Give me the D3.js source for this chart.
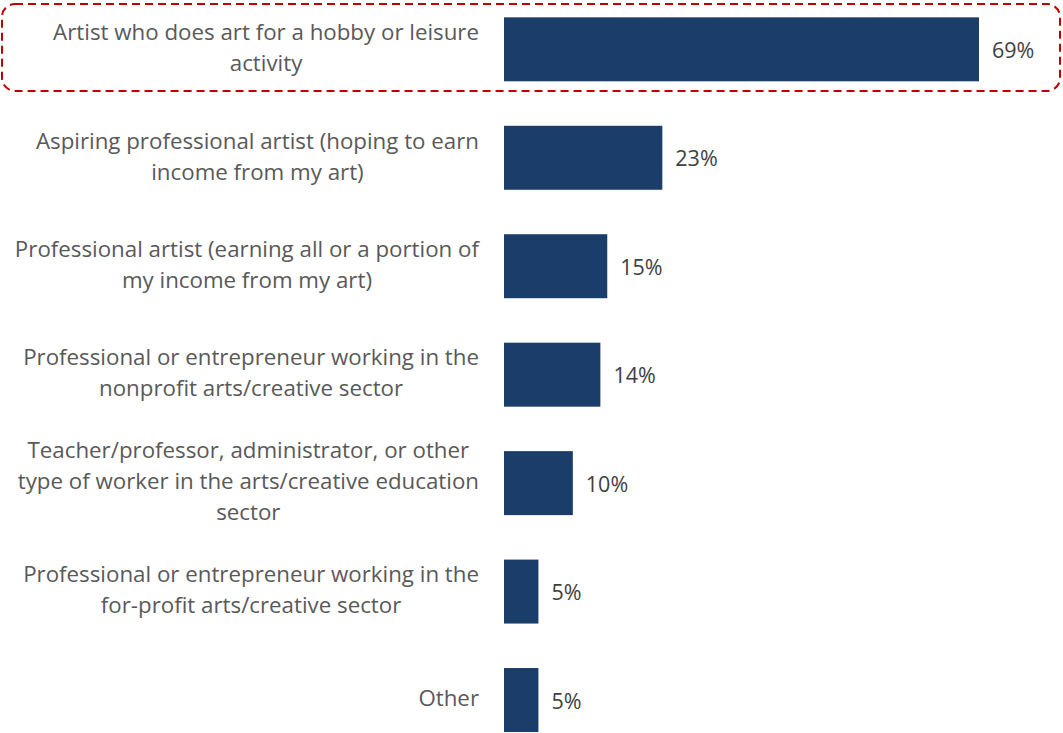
<!DOCTYPE html>
<html><head><meta charset="utf-8">
<script src="https://cdn.jsdelivr.net/npm/d3@7"></script>
<style>body{margin:0;background:#fff;} svg{display:block;}</style>
</head><body>
<svg id="chart" width="1063" height="733"></svg>
<script>
const categories = [
  ["Artist who does art for a hobby or leisure", "activity"],
  ["Aspiring professional artist (hoping to earn", "income from my art)"],
  ["Professional artist (earning all or a portion of", "my income from my art)"],
  ["Professional or entrepreneur working in the", "nonprofit arts/creative sector"],
  ["Teacher/professor, administrator, or other", "type of worker in the arts/creative education", "sector"],
  ["Professional or entrepreneur working in the", "for-profit arts/creative sector"],
  ["Other"]
];
const values = [69, 23, 15, 14, 10, 5, 5];
const valueLabels = ["69%", "23%", "15%", "14%", "10%", "5%", "5%"];

const svg = d3.select("#chart");
const barX0 = 504;
const x = d3.scaleLinear().domain([0, 69]).range([barX0, barX0 + 475]);
const y = d3.scaleBand().domain(d3.range(values.length)).range([-4.9, 754.25]).paddingInner(0.41).paddingOuter(0.205);

const font = "'Open Sans', sans-serif";
const fs = 22.3;
const lineH = 31;
const textColor = "#595959";

// highlight box
svg.append("rect")
  .attr("x", 2).attr("y", 4).attr("width", 1058).attr("height", 87)
  .attr("rx", 13).attr("ry", 13)
  .attr("fill", "none").attr("stroke", "#c00000").attr("stroke-width", 2)
  .attr("stroke-dasharray", "8,5");

svg.selectAll("rect.bar").data(values).join("rect")
  .attr("class", "bar")
  .attr("x", x(0))
  .attr("y", (d, i) => y(i))
  .attr("width", d => x(d) - x(0))
  .attr("height", y.bandwidth())
  .attr("fill", "#1a3e69");

svg.selectAll("text.val").data(values).join("text")
  .attr("class", "val")
  .attr("x", d => x(d) + 13)
  .attr("y", (d, i) => y(i) + y.bandwidth() / 2 + 1)
  .attr("dy", "0.35em")
  .attr("font-family", font).attr("font-size", 21.5)
  .attr("fill", "#404040")
  .text((d, i) => valueLabels[i]);

const labelRight = 479;
categories.forEach((lines, i) => {
  const g = svg.append("g");
  const cy = y(i) + y.bandwidth() / 2 - 1.5;
  const n = lines.length;
  const texts = lines.map((ln, j) => g.append("text")
    .attr("font-family", font).attr("font-size", fs)
    .attr("fill", textColor)
    .attr("text-anchor", "middle")
    .attr("y", cy + (j - (n - 1) / 2) * lineH)
    .attr("dy", "0.35em")
    .text(ln));
  const maxW = d3.max(texts, t => t.node().getComputedTextLength());
  texts.forEach(t => t.attr("x", labelRight - maxW / 2));
});
</script>
</body></html>
